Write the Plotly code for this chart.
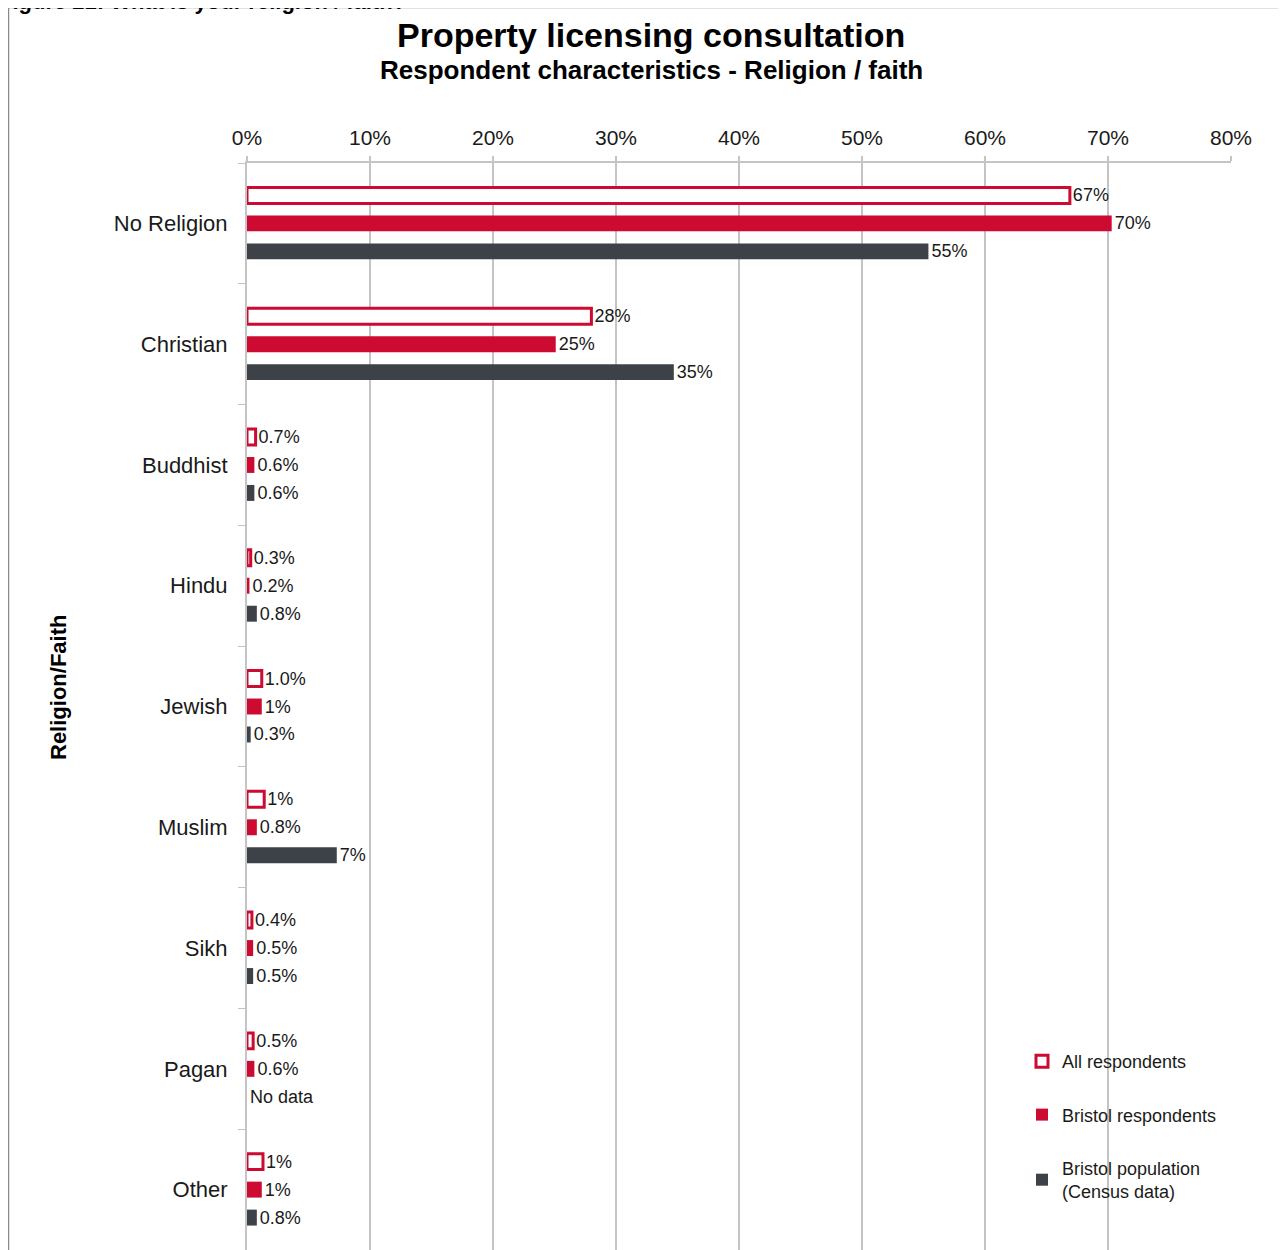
import plotly.graph_objects as go

categories = ["No Religion", "Christian", "Buddhist", "Hindu", "Jewish", "Muslim", "Sikh", "Pagan", "Other"]

all_resp = [66.9, 28.0, 0.7, 0.3, 1.2, 1.4, 0.4, 0.5, 1.3]
all_text = ["67%", "28%", "0.7%", "0.3%", "1.0%", "1%", "0.4%", "0.5%", "1%"]

bristol_resp = [70.3, 25.1, 0.6, 0.2, 1.2, 0.8, 0.5, 0.6, 1.2]
bristol_text = ["70%", "25%", "0.6%", "0.2%", "1%", "0.8%", "0.5%", "0.6%", "1%"]

census = [55.4, 34.7, 0.6, 0.8, 0.3, 7.3, 0.5, 0, 0.8]
census_text = ["55%", "35%", "0.6%", "0.8%", "0.3%", "7%", "0.5%", "No data", "0.8%"]

x_ticks = [0, 10, 20, 30, 40, 50, 60, 70, 80]
x_tick_text = ["0%", "10%", "20%", "30%", "40%", "50%", "60%", "70%", "80%"]

RED = "#CC0A32"
DARK = "#3D4249"
FONT = "Liberation Sans, Arial, sans-serif"
TXT = "#1a1a1a"

OFF = 8  # page body margin
W, H = 1286 - OFF, 1250 - OFF
L, R, T, B = 247, 1231, 163, 1250   # plot area in screen pixels
PW, PH = R - L, B - T


def px(X):
    return (X - L) / PW


def py(Y):
    return (B - Y) / PH


fig = go.Figure()
label_font = dict(family=FONT, size=18, color=TXT)

fig.add_trace(go.Bar(
    y=categories, x=all_resp, orientation="h", name="All respondents",
    marker=dict(color="white", line=dict(color=RED, width=3)),
    text=all_text, textposition="outside", textfont=label_font, constraintext="none",
    legendgroup="a", cliponaxis=False,
))
fig.add_trace(go.Bar(
    y=categories, x=bristol_resp, orientation="h", name="Bristol respondents",
    marker=dict(color=RED, line=dict(width=0)),
    text=bristol_text, textposition="outside", textfont=label_font, constraintext="none",
    legendgroup="b", cliponaxis=False,
))
fig.add_trace(go.Bar(
    y=categories, x=census, orientation="h", name="Bristol population<br>(Census data)",
    marker=dict(color=DARK, line=dict(width=0)),
    text=census_text, textposition="outside", textfont=label_font, constraintext="none",
    legendgroup="c", cliponaxis=False,
))

fig.update_layout(
    width=W, height=H,
    margin=dict(l=L - OFF, r=(W + OFF) - R, t=T - OFF, b=0, pad=0),
    paper_bgcolor="white", plot_bgcolor="white",
    barmode="group", bargap=0.305, bargroupgap=0.43,
    font=dict(family=FONT, color=TXT),
    showlegend=True,
    legend=dict(
        x=px(1022), y=py(1043), xanchor="left", yanchor="top",
        font=dict(family=FONT, size=18, color=TXT),
        tracegroupgap=27, bgcolor="rgba(0,0,0,0)", itemwidth=30,
    ),
    xaxis=dict(
        side="top", range=[0, 80], tickvals=x_ticks, ticktext=x_tick_text,
        tickfont=dict(family=FONT, size=21, color=TXT),
        showgrid=True, gridcolor="#C4C4C4", gridwidth=2,
        showline=True, linecolor="#C4C4C4", linewidth=2,
        ticks="outside", ticklen=5, tickcolor="#C4C4C4", tickwidth=2,
        zeroline=False, fixedrange=True, ticklabelstandoff=3,
    ),
    yaxis=dict(
        autorange="reversed", tickson="boundaries",
        tickfont=dict(family=FONT, size=22, color=TXT),
        showgrid=False, showline=True, linecolor="#C4C4C4", linewidth=2,
        ticks="outside", ticklen=7, tickcolor="#C4C4C4", tickwidth=1,
        zeroline=False, ticklabelstandoff=13,
    ),
    shapes=[dict(
        type="rect", xref="paper", yref="paper",
        x0=px(8.5), x1=px(1300), y0=py(1270), y1=py(7.5),
        line=dict(color="#8a8a8a", width=1.5), fillcolor="rgba(0,0,0,0)", layer="below",
    )],
    annotations=[
        dict(text="<b>Property licensing consultation</b>", x=px(651), y=py(35),
             xref="paper", yref="paper", showarrow=False, xanchor="center", yanchor="middle",
             font=dict(family=FONT, size=34, color="black")),
        dict(text="<b>Respondent characteristics - Religion / faith</b>", x=px(651), y=py(70),
             xref="paper", yref="paper", showarrow=False, xanchor="center", yanchor="middle",
             font=dict(family=FONT, size=26, color="black")),
        dict(text="<b>Religion/Faith</b>", x=px(58), y=py(688), textangle=-90,
             xref="paper", yref="paper", showarrow=False, xanchor="center", yanchor="middle",
             font=dict(family=FONT, size=22, color="black")),
        dict(text="<b>Figure 21: What is your religion / faith?</b>", x=px(-3), y=py(1.5),
             xref="paper", yref="paper", showarrow=False, xanchor="left", yanchor="middle",
             font=dict(family=FONT, size=22, color="black")),
    ],
)

fig.write_html("out.html")
